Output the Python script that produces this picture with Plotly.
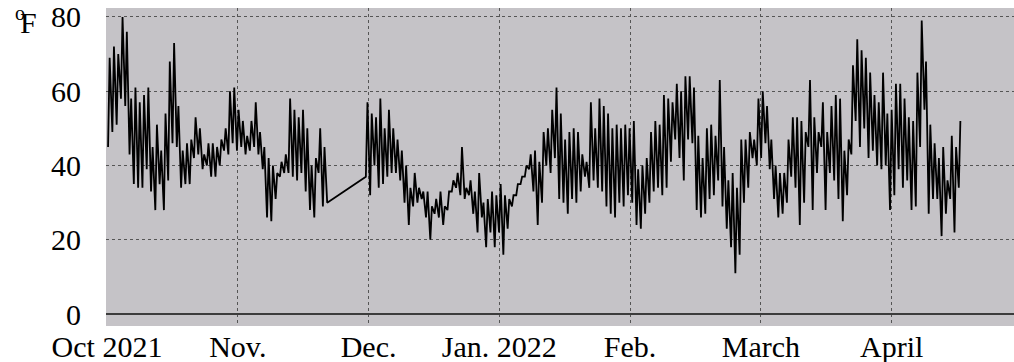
import plotly.graph_objects as go

# Month labels (gridlines every average month length, starting Oct 1 2021)
month_labels = ["Oct 2021", "Nov.", "Dec.", "Jan. 2022", "Feb.", "March", "April"]
month_len_days = 30.4375

y_ticks = [0, 20, 40, 60, 80]

# Daily low / high temperatures (deg F), day 0 = Oct 1 2021; None = missing
daily_low = [
    45, 49, 51, 58, 56, 43, 35, 34, 34, 39,
    33, 28, 35, 28, 36, 46, 45, 34, 35, 35,
    42, 43, 39, 40, 37, 37, 40, 44, 43, 46,
    44, 45, 43, 44, 45, 43, 39, 26, 25, 31,
    37, 38, 38, 37, 36, 38, 33, 28, 26, 38,
    29, 30, None, None, None, None, None, None, None, None,
    37, 32, 40, 34, 35, 37, 38, 38, 36, 30,
    24, 29, 30, 31, 26, 20, 27, 26, 24, 28,
    33, 34, 32, 31, 32, 27, 22, 26, 18, 22,
    18, 22, 16, 23, 29, 32, 35, 37, 39, 33,
    24, 30, 40, 38, 42, 31, 30, 27, 31, 30,
    33, 37, 34, 36, 34, 33, 29, 27, 26, 30,
    29, 32, 30, 24, 23, 27, 30, 33, 34, 32,
    34, 41, 47, 42, 36, 47, 46, 28, 26, 27,
    31, 32, 36, 29, 23, 18, 11, 16, 30, 34,
    42, 40, 42, 46, 39, 31, 26, 27, 30, 37,
    34, 24, 30, 45, 28, 38, 45, 28, 38, 36,
    31, 25, 32, 43, 52, 45, 50, 42, 44, 40,
    39, 40, 28, 32, 39, 34, 36, 28, 29, 45,
    55, 27, 31, 31, 21, 27, 31, 22, 34,
]
daily_high = [
    69, 72, 70, 80, 76, 58, 61, 57, 59, 61,
    45, 51, 44, 54, 68, 73, 56, 44, 46, 47,
    53, 50, 43, 46, 46, 45, 47, 50, 60, 61,
    55, 52, 48, 52, 57, 49, 45, 42, 40, 38,
    41, 43, 58, 55, 53, 55, 50, 40, 42, 50,
    45, None, None, None, None, None, None, None, None, None,
    57, 54, 53, 58, 50, 55, 50, 47, 44, 40,
    34, 38, 34, 33, 33, 29, 31, 33, 29, 33,
    36, 38, 45, 34, 36, 33, 38, 30, 31, 33,
    32, 35, 32, 31, 32, 35, 37, 40, 43, 44,
    41, 49, 50, 55, 61, 54, 47, 49, 50, 49,
    43, 41, 57, 50, 58, 56, 54, 50, 51, 50,
    51, 50, 52, 39, 40, 42, 49, 52, 51, 59,
    58, 57, 62, 60, 64, 64, 61, 48, 42, 50,
    51, 48, 63, 45, 36, 38, 34, 47, 47, 49,
    47, 58, 60, 56, 47, 40, 38, 38, 47, 53,
    53, 52, 49, 63, 53, 49, 57, 49, 56, 59,
    58, 44, 47, 67, 74, 71, 69, 65, 59, 57,
    65, 54, 55, 62, 62, 58, 53, 52, 65, 79,
    68, 51, 46, 42, 45, 36, 48, 45, 52,
]

x_vals, y_vals = [], []
for d, (lo, hi) in enumerate(zip(daily_low, daily_high)):
    x_vals.append(d + 0.25)
    y_vals.append(lo)
    x_vals.append(d + 0.62)
    y_vals.append(hi)

fig = go.Figure()
fig.add_trace(go.Scatter(
    x=x_vals, y=y_vals, mode="lines",
    line=dict(color="black", width=1.8),
    connectgaps=True, hoverinfo="skip", showlegend=False,
))

family = "Liberation Serif, Times New Roman, serif"
xfont = dict(family=family, size=30, color="black")
yfont = dict(family=family, size=30, color="black")

fig.update_layout(
    width=1014, height=362, autosize=False,
    margin=dict(l=106, r=0, t=8, b=36),
    paper_bgcolor="white",
    plot_bgcolor="#c5c3c7",
    font=yfont,
    xaxis=dict(
        range=[-0.23, 211.1],
        tickvals=[k * month_len_days for k in range(len(month_labels))],
        ticktext=month_labels,
        showgrid=True, gridcolor="#555555", gridwidth=1, griddash="3px,3px",
        zeroline=False, showline=False, ticks="",
        tickfont=xfont, automargin=False,
    ),
    yaxis=dict(
        range=[-3.2, 82.4],
        tickvals=y_ticks,
        showgrid=True, gridcolor="#555555", gridwidth=1, griddash="3px,3px",
        zeroline=True, zerolinecolor="#3c3c3c", zerolinewidth=2,
        showline=False, ticks="", ticklabelstandoff=24,
        tickfont=yfont, automargin=False,
    ),
    annotations=[
        dict(text="o", xref="paper", yref="paper",
             x=-0.1025, y=0.985, xanchor="left", yanchor="middle",
             showarrow=False, font=dict(family=family, size=20, color="black")),
        dict(text="F", xref="paper", yref="paper",
             x=-0.097, y=0.9547, xanchor="left", yanchor="middle",
             showarrow=False, font=yfont),
    ],
)

fig.write_html(
    "out.html",
    config={"displayModeBar": False},
    post_script="document.body.style.margin='0';document.body.style.overflow='hidden';",
)
